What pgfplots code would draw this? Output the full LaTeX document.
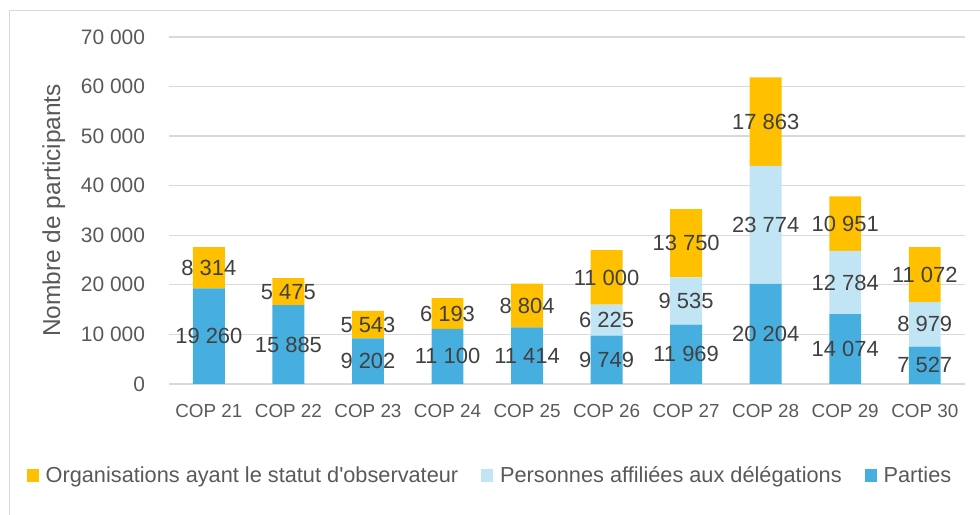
\documentclass[border=0pt]{standalone}
\usepackage{fontspec}
\setmainfont{Liberation Sans}[Ligatures=TeXOff]
\usepackage{pgfplots}
\usepackage{pgfplotstable}
\pgfplotsset{compat=1.18}
\definecolor{cParties}{HTML}{47AFE0}
\definecolor{cDeleg}{HTML}{C1E5F5}
\definecolor{cObs}{HTML}{FFC000}
\definecolor{tickgray}{HTML}{595959}
\definecolor{labgray}{HTML}{404040}
\definecolor{gridgray}{HTML}{D9D9D9}
\pgfplotstableread{
x parties deleg obs
0 19260 0 8314
1 15885 0 5475
2 9202 0 5543
3 11100 0 6193
4 11414 0 8804
5 9749 6225 11000
6 11969 9535 13750
7 20204 23774 17863
8 14074 12784 10951
9 7527 8979 11072
}\data
\begin{document}
\pgfkeys{/pgf/number format/.cd, fixed, precision=0, 1000 sep={\ }, assume math mode=true}
\begin{tikzpicture}
\useasboundingbox (-166.8pt,-131pt) rectangle (813.2pt,385pt);
\begin{axis}[
  at={(0pt,0pt)}, anchor=south west,
  scale only axis, width=797.7pt, height=348pt,
  ybar stacked, bar width=32pt,
  xmin=-0.5, xmax=9.5, ymin=0, ymax=70000,
  xtick={0,...,9},
  xticklabels={COP 21,COP 22,COP 23,COP 24,COP 25,COP 26,COP 27,COP 28,COP 29,COP 30},
  ytick={0,10000,...,70000},
  scaled y ticks=false,
  major tick length=0pt,
  axis line style={draw=none},
  ymajorgrids, major grid style={draw=gridgray, line width=1.3pt},
  yticklabel style={font=\fontsize{21pt}{25pt}\selectfont, text=tickgray, anchor=east, inner sep=0pt, xshift=-24pt},
  xticklabel style={font=\fontsize{18.9pt}{22pt}\selectfont, text=tickgray, anchor=north, inner sep=0pt, yshift=-20pt},
  ylabel={Nombre de participants},
  ylabel style={font=\fontsize{24.5pt}{29pt}\selectfont, text=tickgray, at={(axis description cs:-0.145,0.5)}, anchor=center},
  point meta=explicit,
  nodes near coords={\pgfmathfloatifflags{\pgfplotspointmeta}{0}{}{\pgfmathprintnumber{\pgfplotspointmeta}}},
  nodes near coords align={center},
  every node near coord/.append style={font=\fontsize{22pt}{26pt}\selectfont, text=labgray, anchor=center, inner sep=0pt},
  reverse legend,
  legend columns=3,
  legend image code/.code={\fill[#1] (0pt,-6.5pt) rectangle (12pt,6.5pt);},
  legend style={draw=none, fill=none, inner sep=0pt, outer sep=0pt,
    at={(axis description cs:-0.179,-0.2644)}, anchor=west,
    font=\fontsize{21.8pt}{26pt}\selectfont, text=tickgray,
    nodes={inner sep=0pt},
    /tikz/every odd column/.append style={column sep=7pt},
    /tikz/every even column/.append style={column sep=23pt}},
]
\addplot[fill=cParties, draw=none] table[x=x,y=parties,meta=parties]{\data};
\addlegendentry{Parties}
\addplot[fill=cDeleg, draw=none] table[x=x,y=deleg,meta=deleg]{\data};
\addlegendentry{Personnes affiliées aux délégations}
\addplot[fill=cObs, draw=none] table[x=x,y=obs,meta=obs]{\data};
\addlegendentry{Organisations ayant le statut d'observateur}
\end{axis}
\draw[gridgray, line width=1pt] (-159.8pt,-131pt) -- (-159.8pt,374pt) -- (813.2pt,374pt);
\end{tikzpicture}
\end{document}
